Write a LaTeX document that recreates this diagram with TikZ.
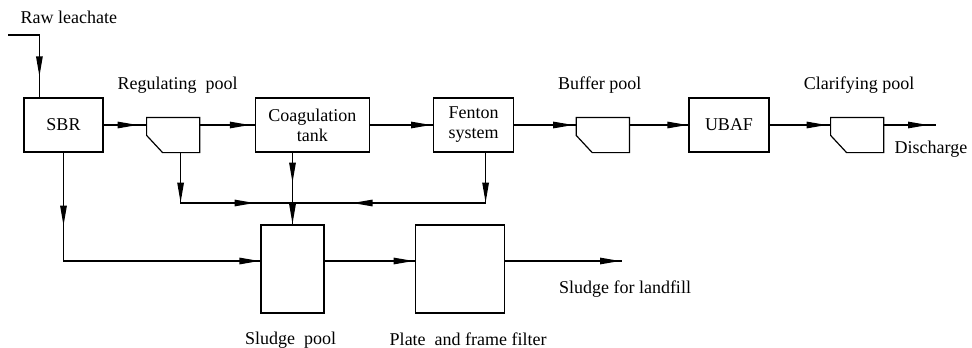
\documentclass[tikz,border=0pt]{standalone}
\usepackage{fontspec}
\setmainfont{Liberation Serif}
\usetikzlibrary{arrows.meta, positioning, calc, decorations.markings}

\tikzset{
	box/.style={draw, minimum height=54pt, inner sep=0pt, align=center},
	pool/.style={minimum width=52pt, minimum height=34pt, inner sep=0pt},
	txt/.style={inner sep=0pt},
	arr/.style={postaction={decorate, decoration={markings,
		mark=at position #1 with {\arrow{Triangle[length=20pt,width=6.5pt]}}}}}
}

\begin{document}
\begin{tikzpicture}[
			x = 1pt, y = -1pt,
			line width = 1.2pt,
			font = \fontsize{18}{20}\selectfont
			]
			\useasboundingbox (0,0) rectangle (972,348);
			
			% Define units
			\node[box, minimum width=79pt] (sbr) at (63.5,125) {SBR};
			\node[pool] (regpool) [right=43pt of sbr.south east, anchor=south west] {};
			\node[box, minimum width=114pt] (coag) [right=55pt of regpool.south east, anchor=south west] {Coagulation\\tank};
			\node[box, minimum width=80pt] (fenton) [right=63pt of coag.south east, anchor=south west] {Fenton\\system};
			\node[pool] (buffer) [right=62pt of fenton.south east, anchor=south west] {};
			\node[box, minimum width=80pt] (ubaf) [right=59pt of buffer.south east, anchor=south west] {UBAF};
			\node[pool] (clarify) [right=61pt of ubaf.south east, anchor=south west] {};
			\node[box, minimum width=63pt, minimum height=88pt] (sludge) at (292.5,269) {};
			\node[box, minimum width=89pt, minimum height=88pt] (plate) [right=90pt of sludge] {};
			
			% Pool outlines
			\foreach \p in {regpool, buffer, clarify}
				\draw (\p.north west) -- ++(0,18) -- ($(\p.south west)+(16,0)$)
					-- (\p.south east) -- (\p.north east) -- cycle;
			
			% Define labels
			\coordinate (raw) at (8,35);
			\coordinate (out) at (936,125);
			\coordinate (sink) at (622,261);
			\node[txt, above right=11pt and 12pt of raw] (rawlbl) {Raw leachate};
			\node[txt, above=23pt of regpool, xshift=4.5pt] (reglbl) {Regulating\ \ pool};
			\node[txt, above=23pt of buffer, xshift=-3pt] (buflbl) {Buffer pool};
			\node[txt, above=23pt of clarify, xshift=2pt] (clalbl) {Clarifying pool};
			\node[txt, below=15pt of out, xshift=-5pt] (dislbl) {Discharge};
			\node[txt, below=18pt of sludge, xshift=-2pt] (sldlbl) {Sludge\ \ pool};
			\node[txt, below=19pt of plate, xshift=8.5pt] (pltlbl) {Plate\ \ and frame filter};
			\node[txt, below=19pt of sink, xshift=3pt] (lndlbl) {Sludge for landfill};
			
			% Water line
			\coordinate (rawin) at ($(sbr.north west)+(16,0)$);
			\draw[arr=-21pt] (raw) -| (rawin);
			\draw[arr=-9pt] (sbr.east) -- (sbr.east -| regpool.west);
			\draw[arr=-5pt] (regpool.east |- coag.west) -- (coag.west);
			\draw[arr=-2pt] (coag.east) -- (fenton.west);
			\draw[arr=-3pt] (fenton.east) -- (fenton.east -| buffer.west);
			\draw[arr=-1pt] (buffer.east |- ubaf.west) -- (ubaf.west);
			\draw[arr=-4pt] (ubaf.east) -- (ubaf.east -| clarify.west);
			\draw[arr=-8pt] (clarify.east |- out) -- (out);
			
			% Sludge line
			\coordinate (col) at (0,203);
			\coordinate (mid) at (0,261);
			\coordinate (regout) at ($(regpool.south west)+(34,0)$);
			\coordinate (fenout) at ($(fenton.south)+(12,0)$);
			\draw[arr=50pt, arr=-38pt] (regout) -- (regout |- col) -- (sludge.north |- col);
			\draw[arr=50pt, arr=-60pt] (fenout) -- (fenout |- col) -- (sludge.north |- col);
			\draw[arr=30pt] (sludge.north |- coag.south) -- (sludge.north |- col);
			\draw[arr=-0.5pt] (sludge.north |- col) -- (sludge.north);
			\draw[arr=73pt, arr=-1pt] (sbr.south) -- (sbr.south |- mid) -- (sludge.west |- mid);
			\draw[arr=-1pt] (sludge.east |- mid) -- (plate.west |- mid);
			\draw[arr=-2pt] (plate.east |- mid) -- (sink);
			
		\end{tikzpicture}
\end{document}
